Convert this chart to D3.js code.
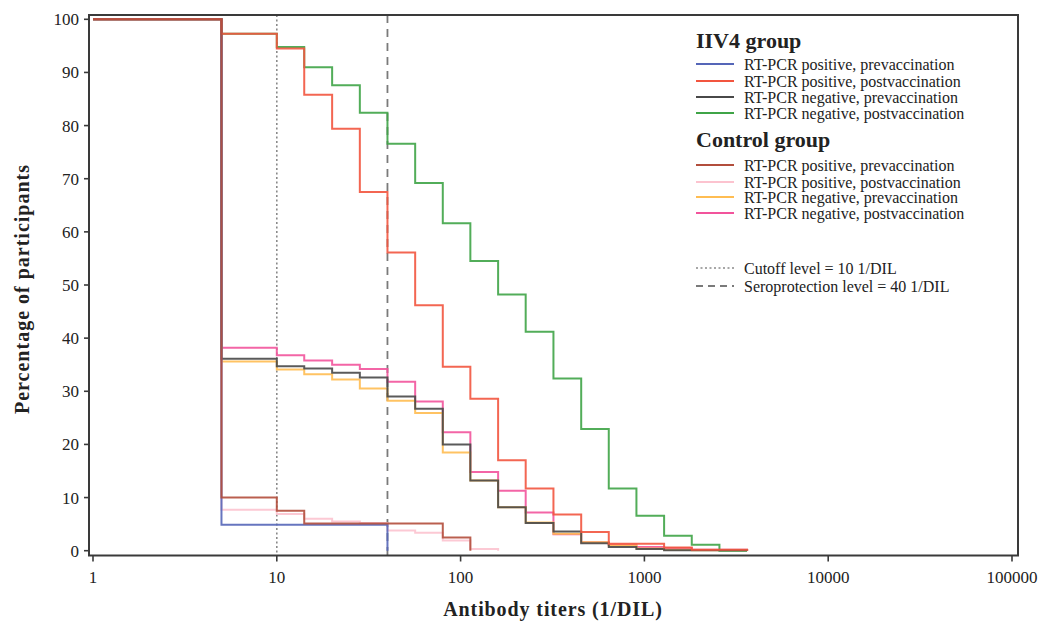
<!DOCTYPE html>
<html>
<head>
<meta charset="utf-8">
<script src="https://cdn.jsdelivr.net/npm/d3@7"></script>
<style>
body{margin:0;background:#fff}
text{font-family:"Liberation Serif","DejaVu Serif",serif;fill:#222}
</style>
</head>
<body>
<svg id="chart" width="1046" height="623"></svg>
<script>
'use strict';

// titer thresholds (1/DIL), each value below is the % at or above it
var titers=[5,10,14.1,20,28.3,40,56.6,80,113,160,226,320,453,640,905,1280,1810,2560,3620];

var iivPosPre=[4.9,4.9,4.9,4.9,4.9,0];
var iivPosPost=[97.3,94.5,85.8,79.4,67.5,56.1,46.2,34.6,28.6,17.0,11.7,6.8,3.5,1.3,1.3,0.6,0.2,0.2,0];
var iivNegPre=[36.1,34.7,34.3,33.5,32.6,29.0,26.7,20.0,13.2,8.2,5.2,3.6,1.4,0.7,0.3,0.1,0.1,0.1,0];
var iivNegPost=[97.3,94.8,91.0,87.6,82.4,76.6,69.2,61.6,54.5,48.2,41.2,32.4,22.9,11.7,6.6,2.8,1.1,0,0];
var ctlPosPre=[10.0,7.5,5.1,5.1,5.1,5.1,5.1,2.5,0];
var ctlPosPost=[7.7,6.9,6.0,5.5,5.2,3.8,3.4,1.9,0.3,0];
var ctlNegPre=[35.6,34.1,33.2,32.2,30.5,28.2,25.9,18.5,13.2,8.2,5.3,3.2,1.6,1.0,0.4,0.2,0.1,0.1,0];
var ctlNegPost=[38.2,36.8,35.8,35.0,34.2,31.8,28.1,22.3,14.8,11.3,7.2,3.1,1.6,1.1,0.7,0.5,0.2,0.2,0];

var seriesNames=['RT-PCR positive, prevaccination','RT-PCR positive, postvaccination',
    'RT-PCR negative, prevaccination','RT-PCR negative, postvaccination'];
var groupNames=['IIV4 group','Control group'];
var xTicks=[1,10,100,1000,10000,100000];
var yTicks=[0,10,20,30,40,50,60,70,80,90,100];
var cutoff=10, seroprotection=40;

var series=[iivPosPre,iivPosPost,iivNegPre,iivNegPost,ctlPosPre,ctlPosPost,ctlNegPre,ctlNegPost];
var colors=['#5566b8','#f2553f','#484848','#3fa447','#b24e3c','#fcc3cf','#ffbd52','#f2549c'];
// paint order, brown control curve ends up on top
var order=[7,6,5,3,2,0,1,4];

var svg=d3.select('#chart')
  , L=89, R=1018, T=15, B=555.5
  , x=d3.scaleLog().domain([1,100000]).range([93,1012])
  , y=d3.scaleLinear().domain([0,100]).range([550.7,19.3])
  , line=d3.line()
        .x(function(d){return x(d[0]);})
        .y(function(d){return y(d[1]);})
        .curve(d3.curveStepAfter)

// reference levels
svg.append('line')
    .attr('x1',x(cutoff)).attr('x2',x(cutoff))
    .attr('y1',T).attr('y2',B)
    .attr('stroke','#8a8a8a').attr('stroke-width',1.6)
    .attr('stroke-dasharray','2,2.5');
svg.append('line')
    .attr('x1',x(seroprotection)).attr('x2',x(seroprotection))
    .attr('y1',T).attr('y2',B)
    .attr('stroke','#7a7a7a').attr('stroke-width',1.8)
    .attr('stroke-dasharray','8,6');

// step curves
order.forEach(function(i){
    var s=series[i]
      , pts=[[1,100]].concat(s.map(function(v,j){return [titers[j],v];}));
    svg.append('path')
        .attr('d',line(pts))
        .attr('fill','none')
        .attr('stroke',colors[i])
        .attr('stroke-width',2)
        .attr('stroke-opacity',0.9);
});

// frame
svg.append('rect')
    .attr('x',L).attr('y',T)
    .attr('width',R-L).attr('height',B-T)
    .attr('fill','none')
    .attr('stroke','#3a3a3a')
    .attr('stroke-width',2);

// axes
var yAxis=svg.append('g');
yTicks.forEach(function(t){
    yAxis.append('line')
        .attr('x1',L-5).attr('x2',L)
        .attr('y1',y(t)).attr('y2',y(t))
        .attr('stroke','#3a3a3a').attr('stroke-width',1.6);
    yAxis.append('text')
        .attr('x',L-10).attr('y',y(t))
        .attr('dy','0.35em')
        .attr('text-anchor','end')
        .style('font-size','17px')
        .text(t);
});
var xAxis=svg.append('g');
xTicks.forEach(function(t){
    xAxis.append('line')
        .attr('x1',x(t)).attr('x2',x(t))
        .attr('y1',B).attr('y2',B+6)
        .attr('stroke','#3a3a3a').attr('stroke-width',1.6);
    xAxis.append('text')
        .attr('x',x(t)).attr('y',577)
        .attr('dy','0.35em')
        .attr('text-anchor','middle')
        .style('font-size','17px')
        .text(t);
});

svg.append('text')
    .attr('x',553).attr('y',609)
    .attr('dy','0.35em')
    .attr('text-anchor','middle')
    .style('font-size','20px')
    .style('letter-spacing','0.9px')
    .style('font-weight','bold')
    .text('Antibody titers (1/DIL)');
svg.append('text')
    .attr('transform','translate(22,289) rotate(-90)')
    .attr('dy','0.35em')
    .attr('text-anchor','middle')
    .style('font-size','20px')
    .style('letter-spacing','1px')
    .style('font-weight','bold')
    .text('Percentage of participants');

// legend
var lg=svg.append('g')
  , rows=[[40,[64,81,97,113]],[139,[165,182,197,213]]]

rows.forEach(function(r,g){
    lg.append('text')
        .attr('x',696).attr('y',r[0])
        .attr('dy','0.35em')
        .style('font-size','22px')
        .style('font-weight','bold')
        .text(groupNames[g]);
    r[1].forEach(function(yy,k){
        lg.append('line')
            .attr('x1',696).attr('x2',734)
            .attr('y1',yy).attr('y2',yy)
            .attr('stroke',colors[g*4+k]).attr('stroke-width',2);
        lg.append('text')
            .attr('x',744).attr('y',yy)
            .attr('dy','0.35em')
            .style('font-size','16px')
            .text(seriesNames[k]);
    });
});
lg.append('line')
    .attr('x1',696).attr('x2',734).attr('y1',268).attr('y2',268)
    .attr('stroke','#8a8a8a').attr('stroke-width',1.4)
    .attr('stroke-dasharray','2,2.5');
lg.append('text')
    .attr('x',744).attr('y',268).attr('dy','0.35em')
    .style('font-size','16px')
    .text('Cutoff level = '+cutoff+' 1/DIL');
lg.append('line')
    .attr('x1',696).attr('x2',734).attr('y1',286).attr('y2',286)
    .attr('stroke','#7a7a7a').attr('stroke-width',1.8)
    .attr('stroke-dasharray','7,5');
lg.append('text')
    .attr('x',744).attr('y',286).attr('dy','0.35em')
    .style('font-size','16px')
    .text('Seroprotection level = '+seroprotection+' 1/DIL');
</script>
</body>
</html>
